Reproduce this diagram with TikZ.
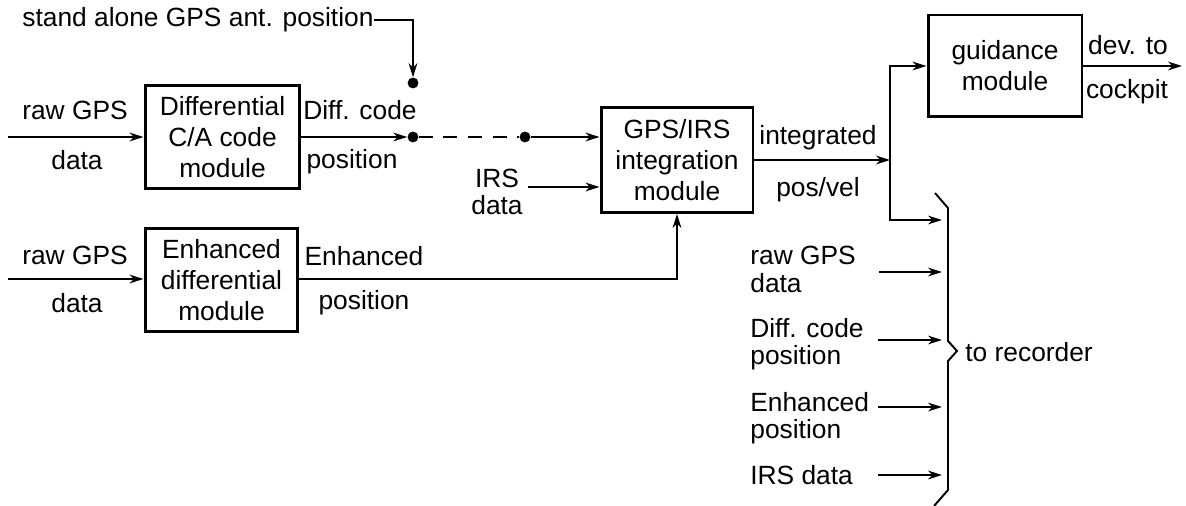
\documentclass[tikz,border=0pt]{standalone}
\usepackage{fontspec}
\setmainfont{Liberation Sans}
\usetikzlibrary{arrows.meta}
\newcommand\figfont{\fontsize{15}{17.6}\selectfont}

\begin{document}
\begin{tikzpicture}[x=0.02cm,y=-0.02cm,
  box/.style={draw, line width=1.7pt, align=center, inner sep=0pt, font=\figfont},
  lbl/.style={inner sep=0pt, font=\figfont},
  conn/.style={line width=1pt, -{Stealth[length=8pt,width=5pt]}},
  plain/.style={line width=1pt},
  dot/.style={circle, fill, inner sep=0pt, minimum size=6.2pt}]
\useasboundingbox (0,0) rectangle (1186,506);

% processing modules
\node[box, minimum width=3.1cm, minimum height=2.06cm] (dca) at (222.5,137)
  {Differential\\C/A code\\module};
\node[box, minimum width=3.06cm, minimum height=2.08cm] (enh) at (221.5,280)
  {Enhanced\\differential\\module};
\node[box, minimum width=3.04cm, minimum height=2.1cm] (integ) at (677,160)
  {GPS/IRS\\integration\\module};
\node[box, minimum width=3.08cm, minimum height=2.04cm] (guid) at (1005,66)
  {guidance\\module};

% labels
\node[lbl, anchor=west] (sa) at (22,20) {stand alone GPS ant. position};
\node[lbl] (raw1) at (75,110) {raw GPS};
\node[lbl] (dat1) at (77,160) {data};
\node[lbl] (dc) at (360,110) {Diff. code};
\node[lbl] (dcp) at (352,162) {position};
\node[lbl] (irs) at (497,178) {IRS};
\node[lbl] (irsd) at (497,205) {data};
\node[lbl] (raw2) at (75,255) {raw GPS};
\node[lbl] (dat2) at (77,303) {data};
\node[lbl] (en) at (364,256) {Enhanced};
\node[lbl] (enp) at (364,303) {position};
\node[lbl] (ig) at (818,138) {integrated};
\node[lbl] (pv) at (818,190) {pos/vel};
\node[lbl] (dev) at (1128,45) {dev. to};
\node[lbl] (ck) at (1127,92) {cockpit};
\node[lbl, anchor=west] (rec) at (965,352) {to recorder};
\node[lbl, anchor=west] (r1a) at (750,255) {raw GPS};
\node[lbl, anchor=west] (r1b) at (750,283) {data};
\node[lbl, anchor=west] (r2a) at (750,328) {Diff. code};
\node[lbl, anchor=west] (r2b) at (750,358) {position};
\node[lbl, anchor=west] (r3a) at (750,402) {Enhanced};
\node[lbl, anchor=west] (r3b) at (750,432) {position};
\node[lbl, anchor=west] (r4) at (750,475) {IRS data};

% junction points
\node[dot] (sw) at (413,83) {};
\node[dot] (d1) at (413,137) {};
\node[dot] (d2) at (525,137) {};
\coordinate (sacorner) at (413,20);
\coordinate (in1) at (8,137);
\coordinate (in2) at (8,279);
\coordinate (irsin) at (528,187);
\coordinate (ebend) at (677,279);
\coordinate (j) at (890,160);
\coordinate (jtop) at (890,66);
\coordinate (jbot) at (890,220);
\coordinate (out) at (1182,66);
\coordinate (recin) at (942,220);
\coordinate (a1) at (879,272);
\coordinate (b1) at (942,272);
\coordinate (a2) at (878,340);
\coordinate (b2) at (942,340);
\coordinate (a3) at (878,407);
\coordinate (b3) at (942,407);
\coordinate (a4) at (878,475);
\coordinate (b4) at (942,475);

% connectors
\draw[conn] (sa.east) -- (sacorner) -- (sw.north);
\draw[conn] (in1) -- (dca.west);
\draw[conn] (dca.east) -- (d1.west);
\draw[plain, dash pattern=on 8pt off 6pt] (d1) -- (d2);
\draw[conn] (d2) -- (d2 -| integ.west);
\draw[conn] (irsin) -- (irsin -| integ.west);
\draw[conn] (in2) -- (in2 -| enh.west);
\draw[conn] (in2 -| enh.east) -- (ebend) -- (integ.south);
\draw[conn] (integ.east) -- (j);
\draw[conn] (j) -- (jtop) -- (guid.west);
\draw[conn] (j) -- (jbot) -- (recin);
\draw[conn] (guid.east) -- (out);
\draw[conn] (a1) -- (b1);
\draw[conn] (a2) -- (b2);
\draw[conn] (a3) -- (b3);
\draw[conn] (a4) -- (b4);

% brace collecting the recorder inputs
\draw[line width=1.1pt] (935,193) -- (948,208) -- (948,341) -- (957,351)
  -- (948,361) -- (948,490) -- (934,506);
\end{tikzpicture}
\end{document}
